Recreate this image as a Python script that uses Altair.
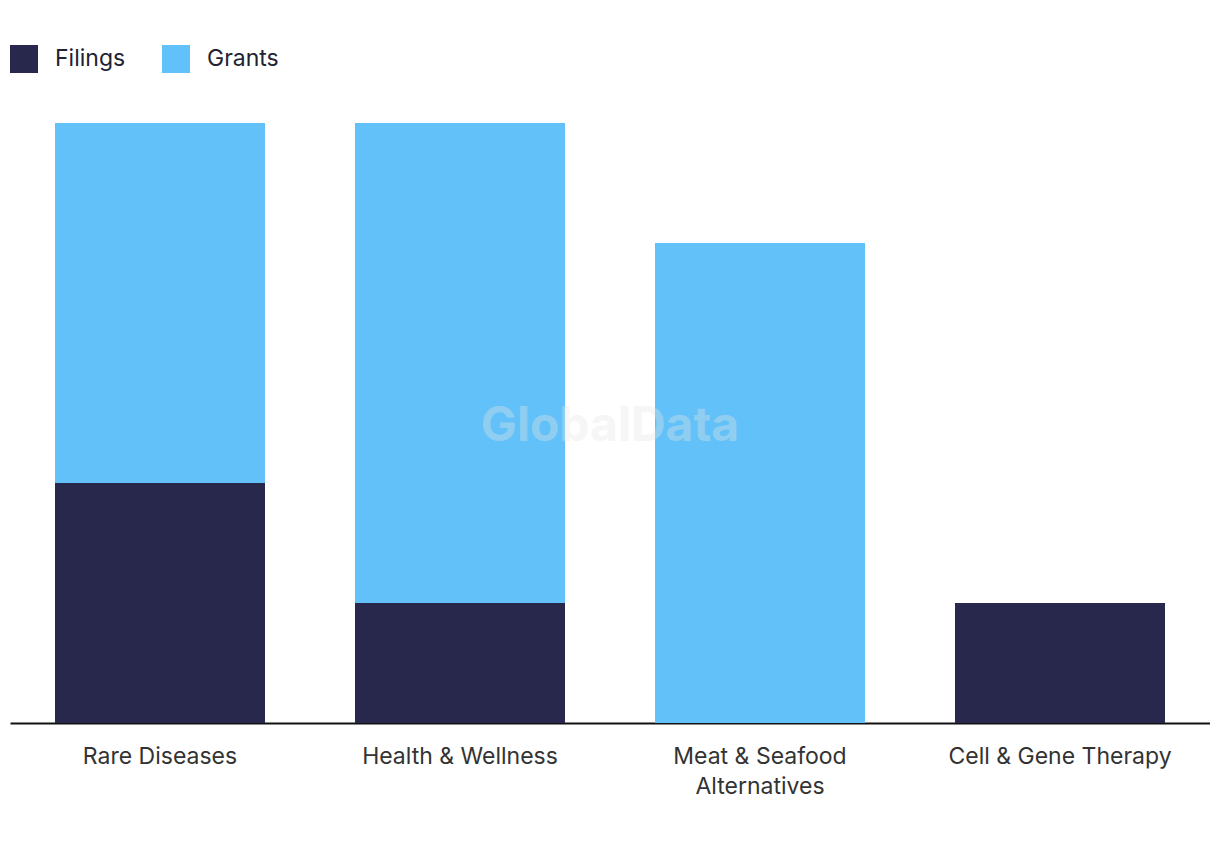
import altair as alt
import pandas as pd

categories = ["Rare Diseases", "Health & Wellness", "Meat & Seafood Alternatives", "Cell & Gene Therapy"]
filings = [2, 1, 0, 1]
grants = [3, 4, 4, 0]
series = ["Filings", "Grants"]
colors = ["#27284B", "#62C1F8"]

rows = []
for c, f, g in zip(categories, filings, grants):
    rows.append({"category": c, "series": "Filings", "value": f, "ord": 0})
    rows.append({"category": c, "series": "Grants", "value": g, "ord": 1})
df = pd.DataFrame(rows)

FONT = "Inter"

bars = alt.Chart(df).mark_bar().encode(
    x=alt.X("category:N", sort=categories, title=None,
            scale=alt.Scale(paddingInner=0.3, paddingOuter=0.15),
            axis=alt.Axis(labelAngle=0, labelFontSize=23, labelColor="#333333", labelFont=FONT,
                          labelPadding=22, labelLineHeight=30, ticks=False, domainColor="#111111",
                          domainWidth=2, labelLimit=400,
                          labelExpr="datum.label == 'Meat & Seafood Alternatives' ? ['Meat & Seafood', 'Alternatives'] : datum.label")),
    y=alt.Y("value:Q", stack="zero", scale=alt.Scale(domain=[0, 5], nice=False),
            axis=None),
    color=alt.Color("series:N", sort=series, scale=alt.Scale(domain=series, range=colors),
                    legend=alt.Legend(title=None, orient="none", legendX=0, legendY=-78,
                                      direction="horizontal", symbolType="square", symbolSize=784,
                                      symbolStrokeWidth=0, labelFontSize=23, labelFont=FONT,
                                      labelColor="#222233", labelOffset=17, columnPadding=36)),
    order=alt.Order("ord:Q"),
)

watermark = alt.Chart(pd.DataFrame({"t": ["GlobalData"]})).mark_text(
    font=FONT, fontSize=48, fontWeight="bold", color="#e6e6e6", opacity=0.35
).encode(text="t:N", x=alt.value(600), y=alt.value(304))

chart = alt.layer(bars, watermark).properties(
    width=1200, height=600,
    background="white",
    autosize=alt.AutoSizeParams(type="none"),
    padding={"left": 2, "top": 115, "right": 0, "bottom": 110},
).configure_view(strokeWidth=0, stroke=None)

chart.save("out.html", embed_options={"renderer": "svg", "actions": False})
